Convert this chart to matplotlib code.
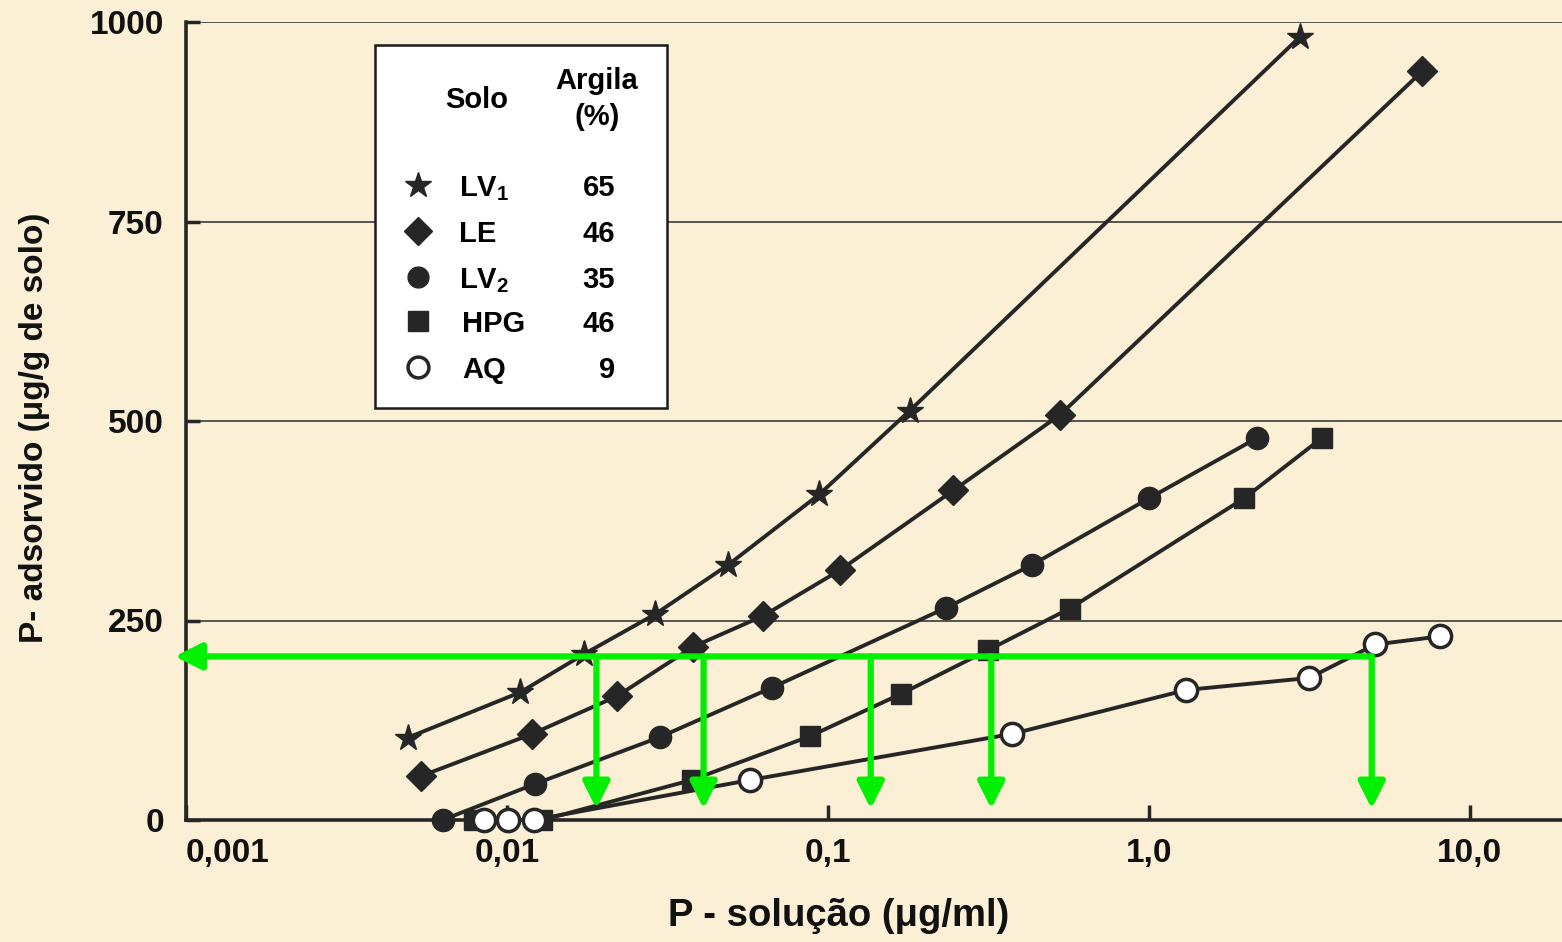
import matplotlib.pyplot as plt
from matplotlib.lines import Line2D
import numpy as np

plt.rcParams['font.family'] = ['Liberation Sans', 'DejaVu Sans']
plt.rcParams['font.weight'] = 'bold'
plt.rcParams['mathtext.fontset'] = 'custom'
plt.rcParams['mathtext.rm'] = 'Liberation Sans:bold'
plt.rcParams['mathtext.it'] = 'Liberation Sans:bold'
plt.rcParams['mathtext.bf'] = 'Liberation Sans:bold'

# ---- data ----
lv1_x = [0.0049, 0.011, 0.0174, 0.029, 0.049, 0.094, 0.18, 2.95]
lv1_y = [103, 160, 208, 258, 320, 408, 513, 981]
le_x = [0.0054, 0.012, 0.022, 0.038, 0.063, 0.109, 0.246, 0.53, 7.1]
le_y = [55, 108, 155, 217, 256, 313, 413, 508, 938]
lv2_x = [0.0063, 0.0122, 0.030, 0.067, 0.234, 0.434, 1.0, 2.18]
lv2_y = [0, 45, 104, 166, 266, 320, 403, 479]
hpg_x = [0.0079, 0.0129, 0.0376, 0.088, 0.169, 0.316, 0.567, 1.98, 3.47]
hpg_y = [0, 0, 50, 105, 158, 213, 265, 403, 479]
aq_x = [0.0085, 0.0101, 0.0121, 0.057, 0.376, 1.31, 3.16, 5.08, 8.06]
aq_y = [0, 0, 0, 50, 108, 163, 178, 220, 230]

solos = ['LV$_1$', 'LE', 'LV$_2$', 'HPG', 'AQ']
argila = [65, 46, 35, 46, 9]

# green reading lines: P adsorbed level and the P in solution for each soil
p_level = 205
p_sol = [0.019, 0.041, 0.136, 0.323, 4.95]

xticks = [0.001, 0.01, 0.1, 1.0, 10.0]
xticklabels = ['0,001', '0,01', '0,1', '1,0', '10,0']
yticks = [0, 250, 500, 750, 1000]

W, H = 1562, 942
bg = '#FBF0D6'
ink = '#262626'
green = '#00F000'

fig = plt.figure(figsize=(W / 100, H / 100), dpi=100)
fig.patch.set_facecolor(bg)
ax = fig.add_axes([186 / W, 1 - 820 / H, 1 - 186 / W, (820 - 22) / H])
ax.set_facecolor('none')

def fpx(x, y):
    return x / W, 1 - y / H

series = [
    (lv1_x, lv1_y, dict(marker='*', ms=20, mfc=ink, mec=ink)),
    (le_x, le_y, dict(marker='D', ms=15, mfc=ink, mec=ink)),
    (lv2_x, lv2_y, dict(marker='o', ms=16, mfc=ink, mec=ink)),
    (hpg_x, hpg_y, dict(marker='s', ms=15, mfc=ink, mec=ink)),
    (aq_x, aq_y, dict(marker='o', ms=16, mfc='white', mec=ink, mew=2.5)),
]
for xs, ys, st in series:
    ax.plot(xs, ys, color=ink, lw=2.8, clip_on=False, zorder=3, **st)

ax.set_xscale('log')
ax.set_xlim(0.001, 10 ** ((1562 - 1150) / 320))
ax.set_ylim(0, 1000)
ax.set_xticks(xticks)
ax.set_xticklabels(xticklabels)
ax.minorticks_off()
ax.set_yticks(yticks)
ax.set_yticklabels([str(v) for v in yticks])
ax.tick_params(axis='both', direction='in', colors=ink, labelcolor='#111111',
               labelsize=24, width=2.5)
ax.tick_params(axis='x', length=11, pad=13)
ax.tick_params(axis='y', length=10, pad=16)
ax.get_xticklabels()[0].set_horizontalalignment('left')
for lab in ax.get_xticklabels() + ax.get_yticklabels():
    lab.set_fontweight('bold')

ax.yaxis.grid(True, color='#3a3a3a', lw=1.2)
ax.set_axisbelow(True)
for s in ['top', 'right']:
    ax.spines[s].set_visible(False)
for s in ['left', 'bottom']:
    ax.spines[s].set_color(ink)
    ax.spines[s].set_linewidth(2.6)

ax.set_xlabel('P - solução (μg/ml)', fontsize=27.5, fontweight='bold', color='#111111')
ax.xaxis.set_label_coords(0.474, -0.098)
ax.set_ylabel('P- adsorvido (μg/g de solo)', fontsize=24, fontweight='bold', color='#111111')
ax.yaxis.set_label_coords(-0.099, 0.491)

# green arrows
arrow = dict(arrowstyle='-|>', color=green, lw=4.5, mutation_scale=40,
             shrinkA=0, shrinkB=0)
ax.annotate('', xy=(0.000922, p_level), xytext=(max(p_sol), p_level),
            arrowprops=arrow, annotation_clip=False, zorder=5)
for xv in p_sol:
    ax.annotate('', xy=(xv, 14), xytext=(xv, p_level),
                arrowprops=arrow, annotation_clip=False, zorder=5)

# legend box drawn as a small table
x0, y0 = fpx(375, 45)
x1, y1 = fpx(667, 408)
fig.patches.append(plt.Rectangle((x0, y1), x1 - x0, y0 - y1, transform=fig.transFigure,
                                 facecolor='white', edgecolor='#1a1a1a', lw=1.8, zorder=6))
fig.text(*fpx(477, 100), 'Solo', fontsize=21, ha='center', va='center', zorder=7)
fig.text(*fpx(597, 81), 'Argila', fontsize=21, ha='center', va='center', zorder=7)
fig.text(*fpx(597, 117), '(%)', fontsize=21, ha='center', va='center', zorder=7)
rows = [185, 231, 277, 321, 367]
name_x = [459, 459, 459, 462, 462]
for (xs, ys, st), name, arg, ry, nx in zip(series, solos, argila, rows, name_x):
    mst = dict(st)
    mst['ms'] = st['ms'] - 1
    fig.add_artist(Line2D([fpx(418, ry)[0]], [fpx(418, ry)[1]], transform=fig.transFigure,
                          linestyle='none', zorder=7, **mst))
    fig.text(*fpx(nx, ry + 11), name, fontsize=21, ha='left', va='baseline', zorder=7)
    fig.text(*fpx(615, ry + 11), str(arg), fontsize=21, ha='right', va='baseline', zorder=7)

fig.savefig('out.png', dpi=100, facecolor=bg)
